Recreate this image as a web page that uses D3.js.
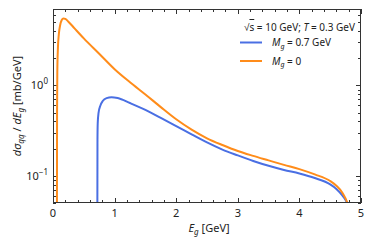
<!DOCTYPE html>
<html>
<head>
<meta charset="utf-8">
<script src="https://cdn.jsdelivr.net/npm/d3@7"></script>
<style>
  body { margin: 0; background: #fff; }
  text { font-family: "Noto Sans", sans-serif; fill: #222; }
</style>
</head>
<body>
<script>
// values
var egM0 = [0.064, 0.066, 0.07, 0.08, 0.095, 0.115, 0.14, 0.17, 0.2, 0.25, 0.35, 0.5, 0.75, 1.0, 1.25, 1.5, 1.75, 2.0, 2.25, 2.5, 2.75, 3.0, 3.25, 3.5, 3.75, 4.0, 4.25, 4.5, 4.6, 4.7, 4.78, 4.82];
var sigM0 = [0.04, 0.5, 1.4, 2.6, 3.7, 4.6, 5.25, 5.5, 5.43, 5.07, 4.27, 3.31, 2.24, 1.51, 1.084, 0.794, 0.575, 0.422, 0.324, 0.26, 0.219, 0.188, 0.166, 0.148, 0.132, 0.1186, 0.1035, 0.0875, 0.0776, 0.0646, 0.05, 0.04];
var egM07 = [0.72, 0.722, 0.726, 0.74, 0.77, 0.81, 0.87, 0.95, 1.05, 1.25, 1.5, 1.75, 2.0, 2.25, 2.5, 2.75, 3.0, 3.25, 3.5, 3.75, 4.0, 4.25, 4.5, 4.6, 4.7, 4.78, 4.82];
var sigM07 = [0.04, 0.25, 0.38, 0.5, 0.6, 0.676, 0.724, 0.741, 0.724, 0.638, 0.537, 0.437, 0.355, 0.288, 0.234, 0.195, 0.168, 0.146, 0.129, 0.116, 0.106, 0.0944, 0.0804, 0.0716, 0.0603, 0.049, 0.04];
var xTicks = [0, 1, 2, 3, 4, 5];
var yMajor = [0.1, 1];

var margin = {top: 9, right: 13, bottom: 46, left: 53};
var W = 374, H = 249;
var width = W - margin.left - margin.right;
var height = H - margin.top - margin.bottom;

var svg = d3.select("body").append("svg")
    .attr("width", W)
    .attr("height", H);
var g = svg.append("g")
    .attr("transform", "translate(" + margin.left + "," + margin.top + ")");

var x = d3.scaleLinear().domain([0, 5]).range([0, width]);
var y = d3.scaleLog().domain([0.05, 7]).range([height, 0]);

svg.append("defs").append("clipPath").attr("id", "clip")
  .append("rect").attr("width", width).attr("height", height);

// ticks on all four sides, pointing in
var xMinor = d3.range(0, 5.01, 0.2).filter(function(d) { return Math.abs(d - Math.round(d)) > 0.01; });
var yMinor = [];
[0.01, 0.1, 1].forEach(function(dec) {
  for (var k = 2; k <= 9; k++) {
    var v = dec * k;
    if (v >= 0.05 && v <= 7) yMinor.push(v);
  }
});

var tk = g.append("g").attr("stroke", "#333").attr("stroke-width", 1);
function hTicks(vals, len) {
  vals.forEach(function(d) {
    var px = Math.round(x(d)) + 0.5;
    tk.append("line").attr("x1", px).attr("x2", px).attr("y1", height).attr("y2", height - len);
    tk.append("line").attr("x1", px).attr("x2", px).attr("y1", 0).attr("y2", len);
  });
}
function vTicks(vals, len) {
  vals.forEach(function(d) {
    var py = Math.round(y(d)) + 0.5;
    tk.append("line").attr("x1", 0).attr("x2", len).attr("y1", py).attr("y2", py);
    tk.append("line").attr("x1", width).attr("x2", width - len).attr("y1", py).attr("y2", py);
  });
}
hTicks(xTicks, 5);
hTicks(xMinor, 3);
vTicks(yMajor, 5);
vTicks(yMinor, 3);

// curves
var line = d3.line()
  .x(function(d) { return x(d[0]); })
  .y(function(d) { return y(d[1]); })
  .curve(d3.curveMonotoneX);

var curves = g.append("g").attr("clip-path", "url(#clip)");
curves.append("path")
  .datum(d3.zip(egM07, sigM07))
  .attr("fill", "none")
  .attr("stroke", "#4a6fe3")
  .attr("stroke-width", 2)
  .attr("d", line);
curves.append("path")
  .datum(d3.zip(egM0, sigM0))
  .attr("fill", "none")
  .attr("stroke", "#ff8c1a")
  .attr("stroke-width", 2)
  .attr("d", line);

g.append("rect")
  .attr("x", 0.5).attr("y", 0.5)
  .attr("width", width - 1).attr("height", height - 1)
  .attr("fill", "none").attr("stroke", "#333").attr("stroke-width", 1);

// tick labels
g.selectAll(".xl").data(xTicks).enter().append("text")
  .attr("x", function(d) { return x(d); })
  .attr("y", height + 14)
  .attr("text-anchor", "middle")
  .attr("font-size", 11)
  .text(function(d) { return d; });

var yl = g.selectAll(".yl").data(yMajor).enter().append("text")
  .attr("x", -5)
  .attr("y", function(d) { return y(d) + 4; })
  .attr("text-anchor", "end")
  .attr("font-size", 11);
yl.append("tspan").text("10");
yl.append("tspan").attr("dy", -5).attr("font-size", 8)
  .text(function(d) { return Math.round(Math.log10(d)) === 0 ? "0" : "\u22121"; });

// axis titles
var xt = g.append("text")
  .attr("x", x(2.5) + 2)
  .attr("y", height + 29)
  .attr("text-anchor", "middle")
  .attr("font-size", 11);
xt.append("tspan").attr("font-style", "italic").text("E");
xt.append("tspan").attr("font-style", "italic").attr("font-size", 8).attr("dy", 3).text("g");
xt.append("tspan").attr("dy", -3).text(" [GeV]");

var yt = svg.append("text")
  .attr("transform", "translate(21," + (margin.top + 97) + ") rotate(-90)")
  .attr("text-anchor", "middle")
  .attr("font-size", 11);
yt.append("tspan").attr("font-style", "italic").text("d\u03c3");
yt.append("tspan").attr("font-style", "italic").attr("font-size", 8).attr("dy", 3).text("qq");
yt.append("tspan").attr("dy", -3).text(" / ");
yt.append("tspan").attr("font-style", "italic").text("dE");
yt.append("tspan").attr("font-style", "italic").attr("font-size", 8).attr("dy", 3).text("g");
yt.append("tspan").attr("dy", -3).text(" [mb/GeV]");

// legend
var lg = svg.append("g");
var ttl = lg.append("text")
  .attr("x", 355).attr("y", 31)
  .attr("text-anchor", "end")
  .attr("font-size", 10);
ttl.append("tspan").text("\u221a");
ttl.append("tspan").style("text-decoration", "overline").text("s");
ttl.append("tspan").text(" = 10 GeV; ");
ttl.append("tspan").attr("font-style", "italic").text("T");
ttl.append("tspan").text(" = 0.3 GeV");

var items = [
  {color: "#4a6fe3", label: " = 0.7 GeV", y: 42.5},
  {color: "#ff8c1a", label: " = 0", y: 61}
];
items.forEach(function(it) {
  lg.append("line")
    .attr("x1", 240).attr("x2", 262)
    .attr("y1", it.y).attr("y2", it.y)
    .attr("stroke", it.color).attr("stroke-width", 2);
  var t = lg.append("text")
    .attr("x", 272).attr("y", it.y + 3.5)
    .attr("font-size", 10);
  t.append("tspan").attr("font-style", "italic").text("M");
  t.append("tspan").attr("font-style", "italic").attr("font-size", 7).attr("dy", 2.5).text("g");
  t.append("tspan").attr("dy", -2.5).text(it.label);
});
</script>
</body>
</html>
